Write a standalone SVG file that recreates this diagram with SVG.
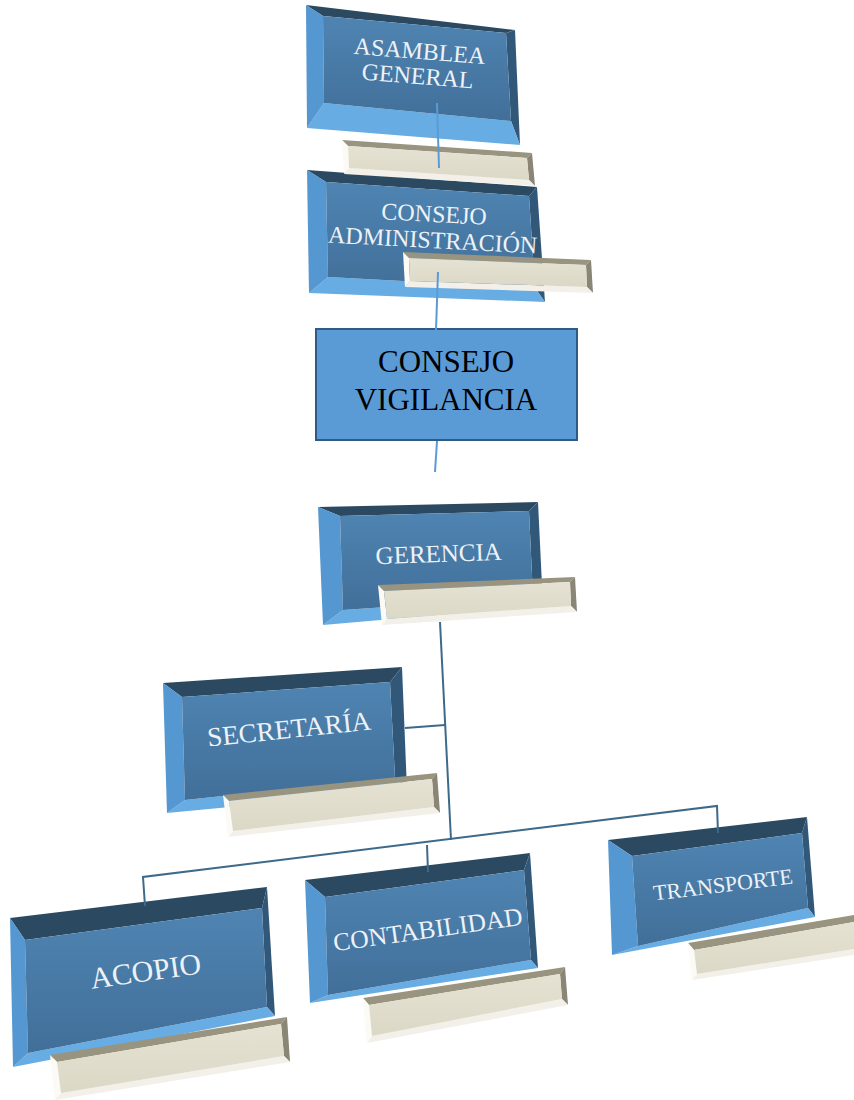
<svg xmlns="http://www.w3.org/2000/svg" width="854" height="1100" viewBox="0 0 854 1100">
<defs>
<linearGradient id="faceGrad" x1="0" y1="0" x2="0" y2="1">
<stop offset="0" stop-color="#4f84b2"/>
<stop offset="1" stop-color="#416f99"/>
</linearGradient>
<linearGradient id="tanGrad" x1="0" y1="0" x2="0" y2="1">
<stop offset="0" stop-color="#e6e2d3"/>
<stop offset="1" stop-color="#dcd8c6"/>
</linearGradient>
</defs>
<style>
.top{fill:#2b4a61}
.right{fill:#325879}
.bottom{fill:#67ace3}
.left{fill:#5597d0}
.face{fill:url(#faceGrad)}
.ttop{fill:#99947f}
.tright{fill:#8a8575}
.tbottom{fill:#f2f0e8}
.tleft{fill:#fbfaf5}
.tface{fill:url(#tanGrad)}
.lbl{font-family:"Liberation Serif","Times New Roman",serif;fill:#edf2f7;text-anchor:middle}
.conn{fill:none;stroke:#3d6a8b;stroke-width:2}
.connL{fill:none;stroke:#5b9bd5;stroke-width:2}
</style>

<g id="consejo-administracion">
<polygon class="top" points="307,170 537,187 529,196 326,182"/>
<polygon class="right" points="537,187 545,302 535,288 529,196"/>
<polygon class="bottom" points="309,293 545,302 535,288 328,277"/>
<polygon class="left" points="307,170 309,293 328,277 326,182"/>
<polygon class="face" points="326,182 529,196 535,288 328,277"/>
<g transform="rotate(3 433 235)">
<text class="lbl" x="433" y="222" font-size="24">CONSEJO</text>
<text class="lbl" x="433" y="248" font-size="24">ADMINISTRACIÓN</text>
</g>
<polygon class="ttop" points="403,252 591,260 586,265 409,258"/>
<polygon class="tright" points="591,260 593,293 587,287 586,265"/>
<polygon class="tbottom" points="405,287 593,293 587,287 410,281"/>
<polygon class="tleft" points="403,252 405,287 410,281 409,258"/>
<polygon class="tface" points="409,258 586,265 587,287 410,281"/>
</g>

<g id="asamblea-general">
<polygon class="top" points="306,5 515,30 506,33 323,16"/>
<polygon class="right" points="515,30 520,145 511,121 506,33"/>
<polygon class="bottom" points="307,128 520,145 511,121 324,103"/>
<polygon class="left" points="306,5 307,128 324,103 323,16"/>
<polygon class="face" points="323,16 506,33 511,121 324,103"/>
<g transform="rotate(4.5 418 71)">
<text class="lbl" x="418" y="59" font-size="24">ASAMBLEA</text>
<text class="lbl" x="418" y="84" font-size="24">GENERAL</text>
</g>
<polygon class="ttop" points="342,140 532,153 527,158 348,146"/>
<polygon class="tright" points="532,153 535,186 529,180 527,158"/>
<polygon class="tbottom" points="344,174 535,186 529,180 349,168"/>
<polygon class="tleft" points="342,140 344,174 349,168 348,146"/>
<polygon class="tface" points="348,146 527,158 529,180 349,168"/>
</g>

<g id="consejo-vigilancia">
<rect x="316" y="329" width="261" height="111" fill="#5b9bd5" stroke="#2f5a86" stroke-width="2"/>
<text x="446" y="372" font-size="31" font-family="'Liberation Serif','Times New Roman',serif" text-anchor="middle" fill="#000">CONSEJO</text>
<text x="446" y="410" font-size="31" font-family="'Liberation Serif','Times New Roman',serif" text-anchor="middle" fill="#000">VIGILANCIA</text>
</g>

<g id="gerencia">
<polygon class="top" points="318,507 538,502 529,511 340,516"/>
<polygon class="right" points="538,502 543,606 533,597 529,511"/>
<polygon class="bottom" points="323,625 543,606 533,597 343,610"/>
<polygon class="left" points="318,507 323,625 343,610 340,516"/>
<polygon class="face" points="340,516 529,511 533,597 343,610"/>
<text class="lbl" x="439" y="562" font-size="25" transform="rotate(-2 439 562)">GERENCIA</text>
<polygon class="ttop" points="378,585 575,577 570,582 384,591"/>
<polygon class="tright" points="575,577 577,612 571,606 570,582"/>
<polygon class="tbottom" points="382,625 577,612 571,606 387,619"/>
<polygon class="tleft" points="378,585 382,625 387,619 384,591"/>
<polygon class="tface" points="384,591 570,582 571,606 387,619"/>
</g>

<g id="secretaria">
<polygon class="top" points="163,683 402,667 390,682 182,697"/>
<polygon class="right" points="402,667 407,790 395,778 390,682"/>
<polygon class="bottom" points="167,813 407,790 395,778 185,800"/>
<polygon class="left" points="163,683 167,813 185,800 182,697"/>
<polygon class="face" points="182,697 390,682 395,778 185,800"/>
<text class="lbl" x="290" y="738" font-size="27" transform="rotate(-6 290 738)">SECRETARÍA</text>
<polygon class="ttop" points="223,795 437,773 432,779 229,801"/>
<polygon class="tright" points="437,773 440,813 434,807 432,779"/>
<polygon class="tbottom" points="228,837 440,813 434,807 233,831"/>
<polygon class="tleft" points="223,795 228,837 233,831 229,801"/>
<polygon class="tface" points="229,801 432,779 434,807 233,831"/>
</g>

<g id="acopio">
<polygon class="top" points="10,918 267,887 262,908 25,940"/>
<polygon class="right" points="267,887 275,1016 267,1007 262,908"/>
<polygon class="bottom" points="13,1067 275,1016 267,1007 28,1053"/>
<polygon class="left" points="10,918 13,1067 28,1053 25,940"/>
<polygon class="face" points="25,940 262,908 267,1007 28,1053"/>
<text class="lbl" x="147" y="981" font-size="30" transform="rotate(-8 147 981)">ACOPIO</text>
<polygon class="ttop" points="50,1055 287,1017 281,1024 57,1062"/>
<polygon class="tright" points="287,1017 290,1062 284,1056 281,1024"/>
<polygon class="tbottom" points="55,1100 290,1062 284,1056 61,1093"/>
<polygon class="tleft" points="50,1055 55,1100 61,1093 57,1062"/>
<polygon class="tface" points="57,1062 281,1024 284,1056 61,1093"/>
</g>

<g id="contabilidad">
<polygon class="top" points="305,880 530,853 524,870 325,897"/>
<polygon class="right" points="530,853 538,968 531,960 524,870"/>
<polygon class="bottom" points="310,1003 538,968 531,960 328,995"/>
<polygon class="left" points="305,880 310,1003 328,995 325,897"/>
<polygon class="face" points="325,897 524,870 531,960 328,995"/>
<text class="lbl" x="429" y="938" font-size="25.5" transform="rotate(-8 429 938)">CONTABILIDAD</text>
<polygon class="ttop" points="363,998 565,967 560,974 369,1005"/>
<polygon class="tright" points="565,967 568,1005 562,999 560,974"/>
<polygon class="tbottom" points="367,1043 568,1005 562,999 372,1036"/>
<polygon class="tleft" points="363,998 367,1043 372,1036 369,1005"/>
<polygon class="tface" points="369,1005 560,974 562,999 372,1036"/>
</g>

<g id="transporte">
<polygon class="top" points="608,840 807,817 802,833 632,856"/>
<polygon class="right" points="807,817 815,917 808,908 802,833"/>
<polygon class="bottom" points="612,955 815,917 808,908 638,946"/>
<polygon class="left" points="608,840 612,955 638,946 632,856"/>
<polygon class="face" points="632,856 802,833 808,908 638,946"/>
<text class="lbl" x="724" y="892" font-size="22" transform="rotate(-7 724 892)">TRANSPORTE</text>
<polygon class="ttop" points="688,943 854,915 854,922 694,950"/>
<polygon class="tbottom" points="692,980 854,955 854,949 697,974"/>
<polygon class="tleft" points="688,943 692,980 697,974 694,950"/>
<polygon class="tface" points="694,950 854,922 854,949 697,974"/>
</g>

<g id="connectors">
<line class="connL" x1="437" y1="103" x2="439" y2="168"/>
<line class="connL" x1="438" y1="272" x2="436" y2="330"/>
<line class="connL" x1="437" y1="441" x2="435" y2="472"/>
<line class="conn" x1="440" y1="622" x2="451" y2="840"/>
<line class="conn" x1="405" y1="728" x2="445" y2="725"/>
<polyline class="conn" points="145,906 143,877 717,806 718,833"/>
<line class="conn" x1="427" y1="845" x2="428" y2="872"/>
</g>
</svg>
